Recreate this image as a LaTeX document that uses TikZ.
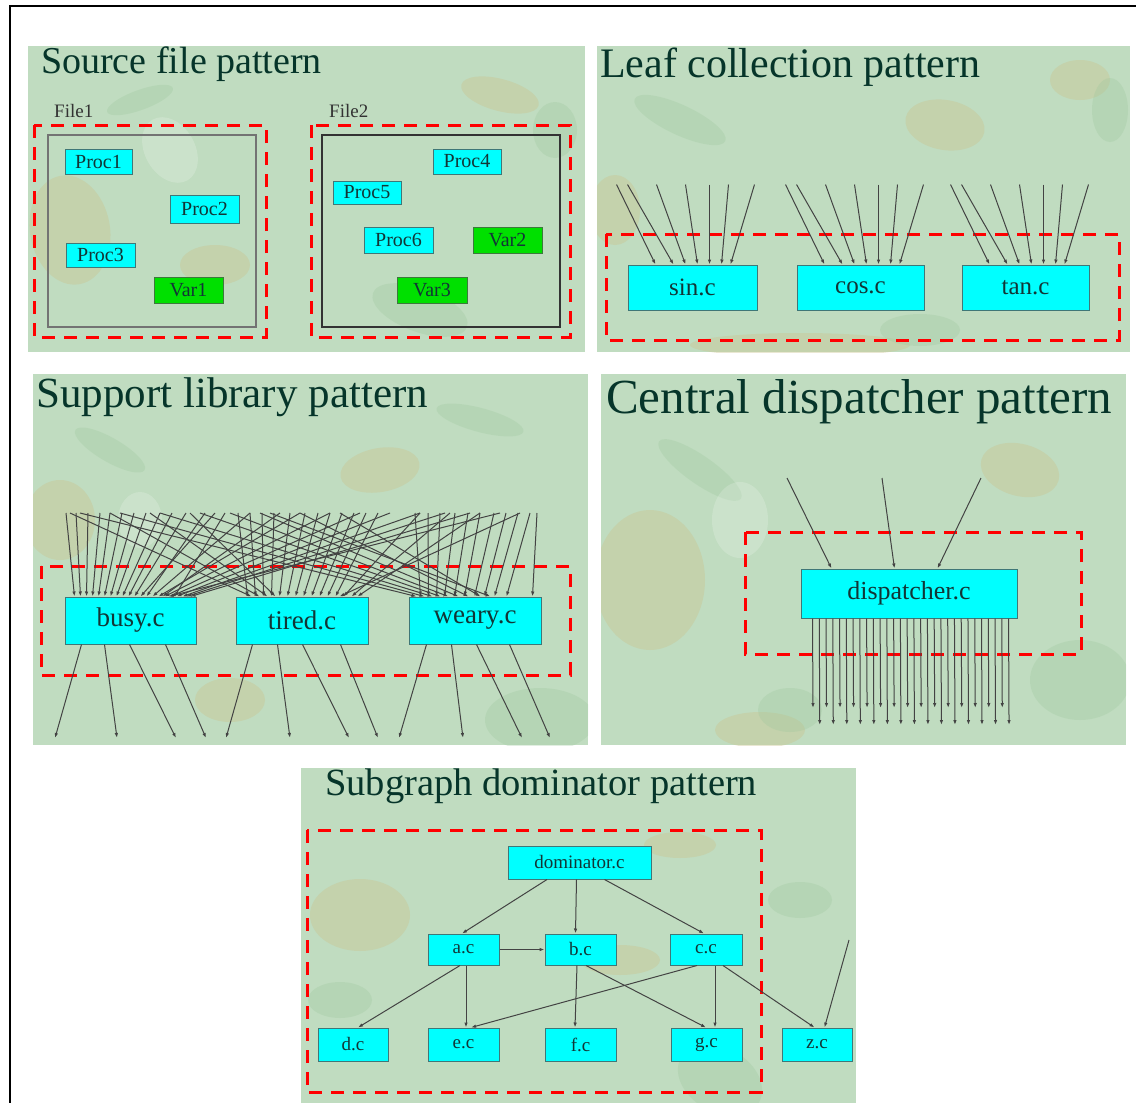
\documentclass[tikz,border=0pt]{standalone}
\usepackage{fontspec}
\setmainfont{Liberation Serif}
\usetikzlibrary{arrows.meta,calc}

\definecolor{panelbg}{HTML}{C0DCC0}
\definecolor{blotchtan}{HTML}{CAC48F}
\definecolor{blotchgreen}{HTML}{9DC89D}
\definecolor{titleink}{HTML}{06352A}
\definecolor{nodeink}{HTML}{123636}
\definecolor{boxline}{HTML}{3F7777}
\definecolor{procfill}{HTML}{00FFFF}
\definecolor{varfill}{HTML}{00E000}
\definecolor{varline}{HTML}{3C7A3C}
\definecolor{edgeink}{HTML}{434343}
\definecolor{groupred}{HTML}{FF0000}

\tikzset{
  panelfill/.style={fill=panelbg, draw=none},
  ptitle/.style={anchor=base west, inner sep=0, text=titleink},
  groupbox/.style={draw=groupred, line width=3pt, dash pattern=on 13pt off 9pt},
  filebox/.style={draw=#1, line width=2pt},
  modbox/.style={draw=boxline, fill=procfill, line width=1pt, inner sep=0, text=nodeink},
  varbox/.style={draw=varline, fill=varfill, line width=1pt, inner sep=0, text=nodeink},
  callarrow/.style={draw=edgeink, line width=1pt, -{Latex[length=5pt,width=3.5pt]}},
  tanspot/.style={fill=blotchtan, opacity=.4},
  greenspot/.style={fill=blotchgreen, opacity=.3},
  lightspot/.style={fill=white, opacity=.18},
}

\begin{document}
\begin{tikzpicture}[x=1pt, y=-1pt]
\useasboundingbox (0,0) rectangle (1136,1103);
\fill[white] (0,0) rectangle (1136,1103);

% outer frame (left and top edges)
\draw[black, line width=2pt] (10,1103) -- (10,6) -- (1136,6);

% ---------- panel backgrounds with mottled texture ----------
\fill[panelfill] (28,46) rectangle (585,352);
\fill[panelfill] (597,46) rectangle (1130,352);
\fill[panelfill] (33,374) rectangle (588,745);
\fill[panelfill] (601,374) rectangle (1126,745);
\fill[panelfill] (301,768) rectangle (856,1103);

\begin{scope}
  \clip (28,46) rectangle (585,352);
  \fill[tanspot] (70,230) ellipse [x radius=40pt, y radius=55pt, rotate=10];
  \fill[tanspot] (215,265) ellipse [x radius=35pt, y radius=20pt];
  \fill[tanspot] (500,95) ellipse [x radius=40pt, y radius=16pt, rotate=-15];
  \fill[greenspot] (140,100) ellipse [x radius=35pt, y radius=10pt, rotate=20];
  \fill[greenspot] (420,310) ellipse [x radius=50pt, y radius=22pt, rotate=-20];
  \fill[greenspot] (555,130) ellipse [x radius=22pt, y radius=28pt];
  \fill[lightspot] (170,150) ellipse [x radius=25pt, y radius=35pt, rotate=30];
\end{scope}
\begin{scope}
  \clip (597,46) rectangle (1130,352);
  \fill[tanspot] (945,125) ellipse [x radius=40pt, y radius=25pt, rotate=-10];
  \fill[tanspot] (615,210) ellipse [x radius=25pt, y radius=35pt];
  \fill[tanspot] (800,345) ellipse [x radius=110pt, y radius=12pt];
  \fill[tanspot] (1080,80) ellipse [x radius=30pt, y radius=20pt];
  \fill[greenspot] (680,120) ellipse [x radius=50pt, y radius=15pt, rotate=-25];
  \fill[greenspot] (920,330) ellipse [x radius=40pt, y radius=16pt];
  \fill[greenspot] (1110,110) ellipse [x radius=18pt, y radius=32pt];
\end{scope}
\begin{scope}
  \clip (33,374) rectangle (588,745);
  \fill[tanspot] (60,520) ellipse [x radius=35pt, y radius=40pt];
  \fill[tanspot] (380,470) ellipse [x radius=40pt, y radius=22pt, rotate=10];
  \fill[tanspot] (230,700) ellipse [x radius=35pt, y radius=22pt];
  \fill[greenspot] (110,450) ellipse [x radius=40pt, y radius=12pt, rotate=-30];
  \fill[greenspot] (540,720) ellipse [x radius=55pt, y radius=32pt];
  \fill[greenspot] (480,420) ellipse [x radius=45pt, y radius=12pt, rotate=-15];
  \fill[lightspot] (140,520) ellipse [x radius=22pt, y radius=28pt];
\end{scope}
\begin{scope}
  \clip (601,374) rectangle (1126,745);
  \fill[tanspot] (650,580) ellipse [x radius=55pt, y radius=70pt];
  \fill[tanspot] (1020,470) ellipse [x radius=40pt, y radius=26pt, rotate=-15];
  \fill[tanspot] (760,730) ellipse [x radius=45pt, y radius=18pt];
  \fill[greenspot] (700,470) ellipse [x radius=50pt, y radius=14pt, rotate=-35];
  \fill[greenspot] (1080,680) ellipse [x radius=50pt, y radius=40pt];
  \fill[greenspot] (790,710) ellipse [x radius=32pt, y radius=22pt];
  \fill[lightspot] (740,520) ellipse [x radius=28pt, y radius=38pt];
\end{scope}
\begin{scope}
  \clip (301,768) rectangle (856,1103);
  \fill[tanspot] (360,915) ellipse [x radius=50pt, y radius=36pt];
  \fill[tanspot] (620,960) ellipse [x radius=40pt, y radius=15pt];
  \fill[tanspot] (680,845) ellipse [x radius=36pt, y radius=13pt];
  \fill[greenspot] (720,1080) ellipse [x radius=45pt, y radius=32pt, rotate=-30];
  \fill[greenspot] (340,1000) ellipse [x radius=32pt, y radius=18pt];
  \fill[greenspot] (800,900) ellipse [x radius=32pt, y radius=18pt];
\end{scope}

% ---------- Source file pattern ----------
\node[ptitle, font=\fontsize{38}{40}\selectfont] (t1) at (41,73) {Source file pattern};
\node[anchor=base west, inner sep=0, text=black!80, font=\fontsize{19}{20}\selectfont] (f1lab) at (54,117) {File1};
\node[anchor=base west, inner sep=0, text=black!80, font=\fontsize{19}{20}\selectfont] (f2lab) at (329,117) {File2};
\draw[filebox=black!55] (48,135) rectangle (256,327);
\draw[filebox=black!80] (322,135) rectangle (560,327);
\draw[groupbox] (34,125) rectangle (266,337);
\draw[groupbox] (311,125) rectangle (570,337);
\begin{scope}[every node/.append style={font=\fontsize{20}{22}\selectfont}]
  \node[modbox, minimum width=67pt, minimum height=25pt] (p1) at (98.5,162) {Proc1};
  \node[modbox, minimum width=69pt, minimum height=28pt] (p2) at (204.5,209) {Proc2};
  \node[modbox, minimum width=69pt, minimum height=24pt] (p3) at (100.5,255) {Proc3};
  \node[varbox, minimum width=69pt, minimum height=26pt] (v1) at (188.5,290) {Var1};
  \node[modbox, minimum width=68pt, minimum height=25pt] (p4) at (467,161.5) {Proc4};
  \node[modbox, minimum width=68pt, minimum height=23pt] (p5) at (367,192.5) {Proc5};
  \node[modbox, minimum width=69pt, minimum height=26pt] (p6) at (398.5,240) {Proc6};
  \node[varbox, minimum width=69pt, minimum height=26pt] (v2) at (507.5,240) {Var2};
  \node[varbox, minimum width=70pt, minimum height=26pt] (v3) at (432,290) {Var3};
\end{scope}

% ---------- Leaf collection pattern ----------
\node[ptitle, font=\fontsize{42}{44}\selectfont] (t2) at (600,77) {Leaf collection pattern};
\draw[groupbox] (606,234) rectangle (1119,340);
\begin{scope}[every node/.append style={font=\fontsize{25}{27}\selectfont}]
  \node[modbox, minimum width=129pt, minimum height=45pt] (sin) at (692.5,287.5) {sin.c};
  \node[modbox, minimum width=127pt, minimum height=45pt] (cos) at (860.5,287.5) {cos.c};
  \node[modbox, minimum width=127pt, minimum height=45pt] (tan) at (1025.5,287.5) {tan.c};
\end{scope}
\foreach \m in {sin,cos,tan}{
  \foreach \a/\b [count=\k] in {-11/28,0/46,29/58,58/70,82/82,101/94,127/103}{
    \coordinate (\m-src-\k) at ([xshift=\a pt, yshift=80pt]\m.north west);
    \draw[callarrow] (\m-src-\k) -- ([xshift=\b pt]\m.north west);
  }
}

% ---------- Support library pattern ----------
\node[ptitle, font=\fontsize{43}{45}\selectfont] (t3) at (36,407) {Support library pattern};
\draw[groupbox] (41,566) rectangle (570,675);
\begin{scope}[every node/.append style={font=\fontsize{27}{29}\selectfont}]
  \node[modbox, minimum width=131pt, minimum height=47pt] (busy) at (130.5,620.5) {busy.c};
  \node[modbox, minimum width=132pt, minimum height=47pt] (tired) at (302,620.5) {tired.c};
  \node[modbox, minimum width=132pt, minimum height=47pt] (weary) at (475,620.5) {weary.c};
\end{scope}
\foreach \t/\n/\o [count=\k] in {
  66/busy/10, 76/busy/16, 88/busy/22, 100/busy/28, 110/busy/34, 122/busy/40,
  134/busy/46, 146/busy/52, 160/busy/58, 172/busy/64, 186/busy/70, 215/busy/76,
  205/busy/82, 250/busy/88, 300/busy/94, 330/busy/100, 360/busy/106, 390/busy/112,
  420/busy/118, 445/busy/122, 470/busy/126, 500/busy/104, 280/busy/98, 225/busy/110,
  238/tired/12, 250/tired/20, 262/tired/28, 274/tired/36, 290/tired/44, 305/tired/52,
  318/tired/60, 330/tired/68, 342/tired/76, 354/tired/84, 366/tired/92, 378/tired/100,
  70/tired/16, 110/tired/24, 150/tired/32, 190/tired/40, 420/tired/108, 450/tired/116,
  480/tired/122, 520/tired/104,
  415/weary/12, 428/weary/20, 440/weary/28, 455/weary/36, 468/weary/46, 480/weary/56,
  494/weary/66, 506/weary/76, 518/weary/86, 530/weary/98, 537/weary/124, 80/weary/8,
  120/weary/16, 160/weary/24, 200/weary/32, 230/weary/40, 260/weary/50, 300/weary/60,
  340/weary/72, 270/weary/82}{
  \coordinate (lib-src-\k) at (\t,513);
  \draw[callarrow] (lib-src-\k) -- ([xshift=\o pt]\n.north west);
}
\foreach \n/\o/\e [count=\k] in {
  busy/17/55, busy/40/117, busy/65/176, busy/101/206,
  tired/17/226, tired/42/290, tired/67/349, tired/105/378,
  weary/18/399, weary/43/463, weary/68/522, weary/101/550}{
  \coordinate (lib-dst-\k) at (\e,738);
  \draw[callarrow] ([xshift=\o pt]\n.south west) -- (lib-dst-\k);
}

% ---------- Central dispatcher pattern ----------
\node[ptitle, font=\fontsize{49}{51}\selectfont] (t4) at (606,413) {Central dispatcher pattern};
\draw[groupbox] (745,532) rectangle (1081,654);
\node[modbox, font=\fontsize{26}{28}\selectfont, minimum width=216pt, minimum height=49pt] (disp) at (909,593.5) {dispatcher.c};
\foreach \sx/\o [count=\k] in {787/31, 882/94, 981/137}{
  \coordinate (disp-src-\k) at (\sx,478);
  \draw[callarrow] (disp-src-\k) -- ([xshift=\o pt]disp.north west);
}
\foreach \k in {0,...,29}{
  \pgfmathsetmacro\xo{12+6.76*\k}
  \pgfmathsetmacro\ye{mod(\k,2)==0 ? 708 : 725}
  \coordinate (disp-dst-\k) at (801+\xo,\ye);
  \draw[callarrow] ([xshift=\xo pt]disp.south west) -- (disp-dst-\k);
}

% ---------- Subgraph dominator pattern ----------
\node[ptitle, font=\fontsize{38.5}{40}\selectfont] (t5) at (325,795) {Subgraph dominator pattern};
\draw[groupbox] (307,830) rectangle (761,1092);
\begin{scope}[every node/.append style={font=\fontsize{19}{21}\selectfont}]
  \node[modbox, minimum width=143pt, minimum height=33pt] (dom) at (579.5,862.5) {dominator.c};
  \node[modbox, minimum width=71pt, minimum height=31pt] (a) at (463.5,949.5) {a.c};
  \node[modbox, minimum width=71pt, minimum height=31pt] (b) at (580.5,949.5) {b.c};
  \node[modbox, minimum width=72pt, minimum height=31pt] (c) at (706,949.5) {c.c};
  \node[modbox, minimum width=70pt, minimum height=33pt] (d) at (353,1044.5) {d.c};
  \node[modbox, minimum width=71pt, minimum height=33pt] (e) at (463.5,1044.5) {e.c};
  \node[modbox, minimum width=71pt, minimum height=33pt] (f) at (580.5,1044.5) {f.c};
  \node[modbox, minimum width=71pt, minimum height=33pt] (g) at (706.5,1044.5) {g.c};
  \node[modbox, minimum width=70pt, minimum height=33pt] (z) at (817,1044.5) {z.c};
\end{scope}
\draw[callarrow] ([xshift=-32.5pt]dom.south) -- ([xshift=-1.5pt]a.north);
\draw[callarrow] ([xshift=-3pt]dom.south) -- ([xshift=-5pt]b.north);
\draw[callarrow] ([xshift=25pt]dom.south) -- ([xshift=-2pt]c.north);
\draw[callarrow] (a.east) -- (b.west);
\draw[callarrow] ([xshift=-3.5pt]a.south) -- ([xshift=5pt]d.north);
\draw[callarrow] ([xshift=2.5pt]a.south) -- ([xshift=2.5pt]e.north);
\draw[callarrow] ([xshift=-3.5pt]b.south) -- ([xshift=-5.5pt]f.north);
\draw[callarrow] ([xshift=5.5pt]b.south) -- ([xshift=-0.5pt]g.north);
\draw[callarrow] ([xshift=-9pt]c.south) -- ([xshift=7.5pt]e.north);
\draw[callarrow] ([xshift=9pt]c.south) -- ([xshift=8.5pt]g.north);
\draw[callarrow] ([xshift=17pt]c.south) -- ([xshift=-2.5pt]z.north);
\coordinate (zsrc) at (849,940);
\draw[callarrow] (zsrc) -- ([xshift=7.5pt]z.north);

\end{tikzpicture}
\end{document}
